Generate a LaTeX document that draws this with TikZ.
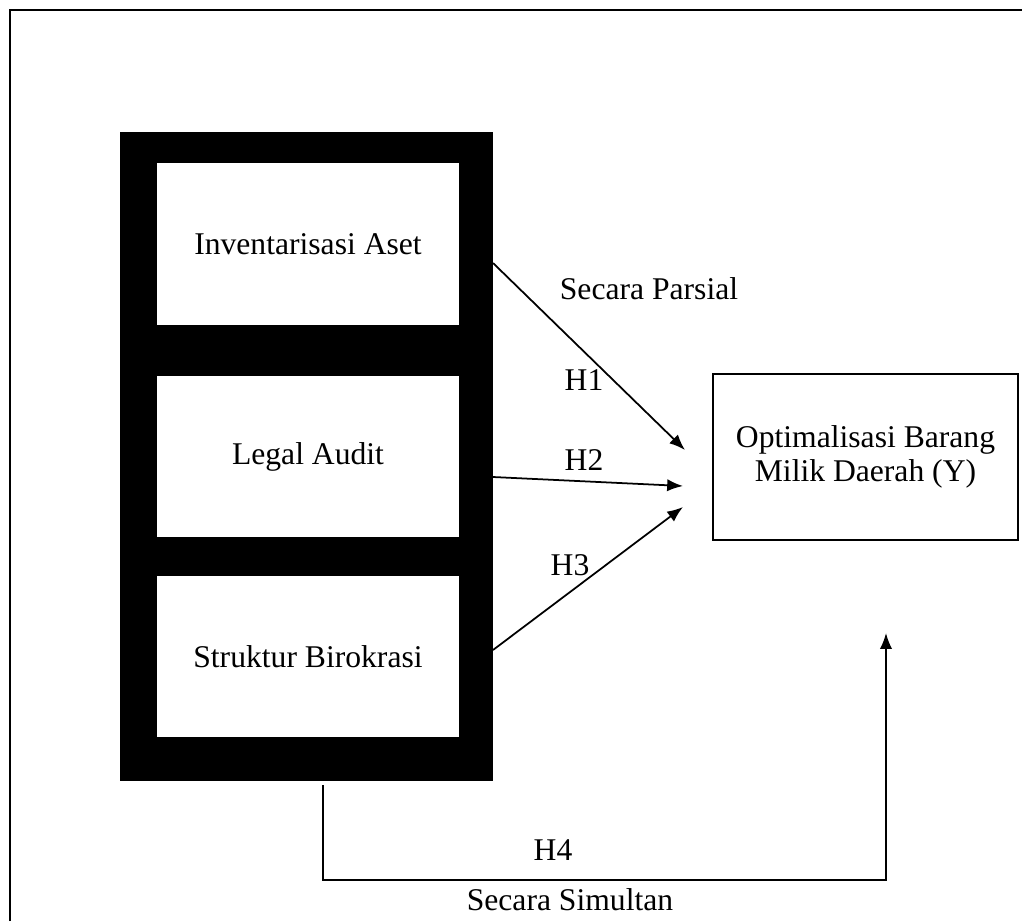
\documentclass[tikz,border=0pt]{standalone}
\usepackage{fontspec}
\setmainfont{Liberation Serif}
\usetikzlibrary{arrows.meta}
\tikzset{
	variabel/.style={fill=white, minimum width=6.04cm, minimum height=3.24cm, inner sep=0pt},
	hasil/.style={draw=black, line width=1.3pt, fill=white, minimum width=6.1cm, minimum height=3.32cm, align=center, font=\fontsize{18}{19}\selectfont},
	panah/.style={-{Latex[length=9pt, width=7pt]}, line width=1pt}
}

\begin{document}
\begin{tikzpicture}[x=0.02cm, y=-0.02cm, every node/.style={font=\fontsize{18}{21}\selectfont}]
	\useasboundingbox (0,0) rectangle (1022,921);
	% --- frame ---
	\draw[line width=1.5pt] (10,921) -- (10,10) -- (1022,10);

	% --- variabel X ---
	\node[fill=black, minimum width=7.46cm, minimum height=12.98cm] (blok) at (306.5,456.5) {};
	\node[variabel] (x1) at (308,244)   {Inventarisasi Aset};
	\node[variabel] (x2) at (308,456.5) {Legal Audit};
	\node[variabel] (x3) at (308,656.5) {Struktur Birokrasi};

	% --- variabel Y ---
	\node[hasil] (y) at (865.5,457) {\raisebox{-4pt}{Optimalisasi Barang}\\\raisebox{-4pt}{Milik Daerah (Y)}};

	% --- secara parsial ---
	\coordinate (h1a) at (493,263);	\coordinate (h1b) at (685,450);
	\coordinate (h2a) at (493,477);	\coordinate (h2b) at (683,486);
	\coordinate (h3a) at (493,650);	\coordinate (h3b) at (683,507);
	\draw[panah] (h1a) -- (h1b);
	\draw[panah] (h2a) -- (h2b);
	\draw[panah] (h3a) -- (h3b);
	\node (parsial) at (649,289) {Secara Parsial};
	\node (h1) at (584,380) {H1};
	\node (h2) at (584,460) {H2};
	\node (h3) at (570,565) {H3};

	% --- secara simultan ---
	\coordinate (s1) at (323,785);
	\coordinate (s2) at (323,880);
	\coordinate (s3) at (886,880);
	\coordinate (s4) at (886,633);
	\draw[panah] (s1) -- (s2) -- (s3) -- (s4);
	\node (h4) at (553,850) {H4};
	\node (simultan) at (570,900) {Secara Simultan};
\end{tikzpicture}
\end{document}
